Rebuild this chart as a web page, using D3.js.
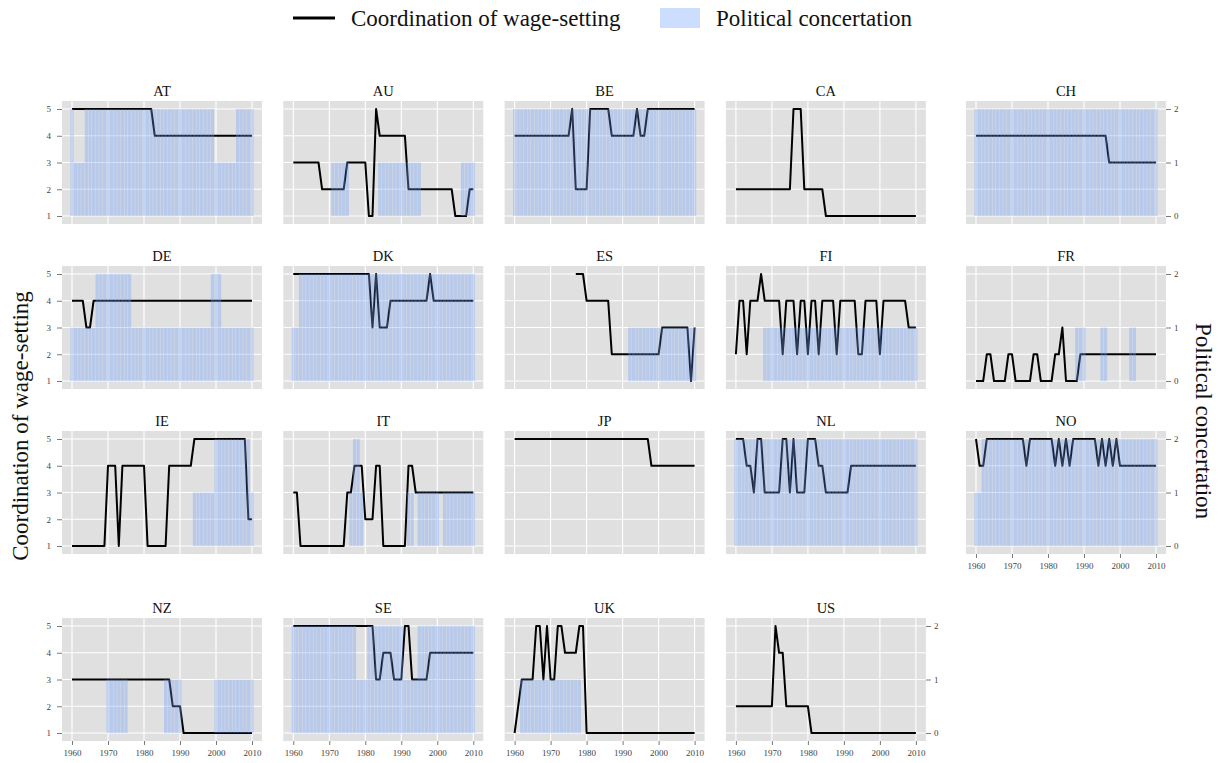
<!DOCTYPE html>
<html><head><meta charset="utf-8">
<script src="https://cdn.jsdelivr.net/npm/d3@7/dist/d3.min.js"></script>
<style>
body{margin:0;background:#fff}
svg{display:block}
text{font-family:"Liberation Serif","Times New Roman",serif}
</style>
</head><body>
<svg id="chart" width="1220" height="763"></svg>
<script>
const years = [1960,1961,1962,1963,1964,1965,1966,1967,1968,1969,
1970,1971,1972,1973,1974,1975,1976,1977,1978,1979,
1980,1981,1982,1983,1984,1985,1986,1987,1988,1989,
1990,1991,1992,1993,1994,1995,1996,1997,1998,1999,
2000,2001,2002,2003,2004,2005,2006,2007,2008,2009,2010];

const countries = ["AT","AU","BE","CA","CH","DE","DK","ES","FI","FR","IE","IT","JP","NL","NO","NZ","SE","UK","US"];
const xTicks = [1960,1970,1980,1990,2000,2010];
const coordTicks = [1,2,3,4,5];
const concTicks = [0,1,2];

// Coordination of wage-setting (1-5), 1960..2010
const coord_AT = [5,5,5,5,5,5,5,5,5,5, 5,5,5,5,5,5,5,5,5,5, 5,5,5,4,4,4,4,4,4,4, 4,4,4,4,4,4,4,4,4,4, 4,4,4,4,4,4,4,4,4,4, 4];
const coord_AU = [3,3,3,3,3,3,3,3,2,2, 2,2,2,2,2,3,3,3,3,3, 3,1,1,5,4,4,4,4,4,4, 4,4,2,2,2,2,2,2,2,2, 2,2,2,2,2,1,1,1,1,2, 2];
const coord_BE = [4,4,4,4,4,4,4,4,4,4, 4,4,4,4,4,4,5,2,2,2, 2,5,5,5,5,5,5,4,4,4, 4,4,4,4,5,4,4,5,5,5, 5,5,5,5,5,5,5,5,5,5, 5];
const coord_CA = [2,2,2,2,2,2,2,2,2,2, 2,2,2,2,2,2,5,5,5,2, 2,2,2,2,2,1,1,1,1,1, 1,1,1,1,1,1,1,1,1,1, 1,1,1,1,1,1,1,1,1,1, 1];
const coord_CH = [4,4,4,4,4,4,4,4,4,4, 4,4,4,4,4,4,4,4,4,4, 4,4,4,4,4,4,4,4,4,4, 4,4,4,4,4,4,4,3,3,3, 3,3,3,3,3,3,3,3,3,3, 3];
const coord_DE = [4,4,4,4,3,3,4,4,4,4, 4,4,4,4,4,4,4,4,4,4, 4,4,4,4,4,4,4,4,4,4, 4,4,4,4,4,4,4,4,4,4, 4,4,4,4,4,4,4,4,4,4, 4];
const coord_DK = [5,5,5,5,5,5,5,5,5,5, 5,5,5,5,5,5,5,5,5,5, 5,5,3,5,3,3,3,4,4,4, 4,4,4,4,4,4,4,4,5,4, 4,4,4,4,4,4,4,4,4,4, 4];
const coord_ES = [null,null,null,null,null,null,null,null,null,null, null,null,null,null,null,null,null,5,5,5, 4,4,4,4,4,4,4,2,2,2, 2,2,2,2,2,2,2,2,2,2, 2,3,3,3,3,3,3,3,3,1, 3];
const coord_FI = [2,4,4,2,4,4,4,5,4,4, 4,4,4,2,4,4,4,2,4,4, 2,4,4,2,4,4,4,4,2,4, 4,4,4,4,2,2,4,4,4,4, 2,4,4,4,4,4,4,4,3,3, 3];
const coord_FR = [1,1,1,2,2,1,1,1,1,2, 2,1,1,1,1,1,2,2,1,1, 1,1,2,2,3,1,1,1,1,2, 2,2,2,2,2,2,2,2,2,2, 2,2,2,2,2,2,2,2,2,2, 2];
const coord_IE = [1,1,1,1,1,1,1,1,1,1, 4,4,4,1,4,4,4,4,4,4, 4,1,1,1,1,1,1,4,4,4, 4,4,4,4,5,5,5,5,5,5, 5,5,5,5,5,5,5,5,5,2, 2];
const coord_IT = [3,3,1,1,1,1,1,1,1,1, 1,1,1,1,1,3,3,4,4,4, 2,2,2,4,4,1,1,1,1,1, 1,1,4,4,3,3,3,3,3,3, 3,3,3,3,3,3,3,3,3,3, 3];
const coord_JP = [5,5,5,5,5,5,5,5,5,5, 5,5,5,5,5,5,5,5,5,5, 5,5,5,5,5,5,5,5,5,5, 5,5,5,5,5,5,5,5,4,4, 4,4,4,4,4,4,4,4,4,4, 4];
const coord_NL = [5,5,5,4,4,3,5,5,3,3, 3,3,3,5,5,3,5,3,3,3, 5,5,5,4,4,3,3,3,3,3, 3,3,4,4,4,4,4,4,4,4, 4,4,4,4,4,4,4,4,4,4, 4];
const coord_NO = [5,4,4,5,5,5,5,5,5,5, 5,5,5,5,4,5,5,5,5,5, 5,5,4,5,4,5,4,5,5,5, 5,5,5,5,4,5,4,5,4,5, 4,4,4,4,4,4,4,4,4,4, 4];
const coord_NZ = [3,3,3,3,3,3,3,3,3,3, 3,3,3,3,3,3,3,3,3,3, 3,3,3,3,3,3,3,3,2,2, 2,1,1,1,1,1,1,1,1,1, 1,1,1,1,1,1,1,1,1,1, 1];
const coord_SE = [5,5,5,5,5,5,5,5,5,5, 5,5,5,5,5,5,5,5,5,5, 5,5,5,3,3,4,4,4,3,3, 3,5,5,3,3,3,3,3,4,4, 4,4,4,4,4,4,4,4,4,4, 4];
const coord_UK = [1,2,3,3,3,3,5,5,3,5, 3,3,5,5,4,4,4,4,5,5, 1,1,1,1,1,1,1,1,1,1, 1,1,1,1,1,1,1,1,1,1, 1,1,1,1,1,1,1,1,1,1, 1];
const coord_US = [2,2,2,2,2,2,2,2,2,2, 2,5,4,4,2,2,2,2,2,2, 2,1,1,1,1,1,1,1,1,1, 1,1,1,1,1,1,1,1,1,1, 1,1,1,1,1,1,1,1,1,1, 1];

// Political concertation (0-2), 1960..2010
const conc_AT = [2,1,1,1,2,2,2,2,2,2, 2,2,2,2,2,2,2,2,2,2, 2,2,2,2,2,2,2,2,2,2, 2,2,2,2,2,2,2,2,2,2, 1,1,1,1,1,1,2,2,2,2, 2];
const conc_AU = [0,0,0,0,0,0,0,0,0,0, 0,1,1,1,1,1,0,0,0,0, 0,0,0,0,1,1,1,1,1,1, 1,1,1,1,1,1,0,0,0,0, 0,0,0,0,0,0,0,1,1,1, 1];
const conc_BE = [2,2,2,2,2,2,2,2,2,2, 2,2,2,2,2,2,2,2,2,2, 2,2,2,2,2,2,2,2,2,2, 2,2,2,2,2,2,2,2,2,2, 2,2,2,2,2,2,2,2,2,2, 2];
const conc_CA = [0,0,0,0,0,0,0,0,0,0, 0,0,0,0,0,0,0,0,0,0, 0,0,0,0,0,0,0,0,0,0, 0,0,0,0,0,0,0,0,0,0, 0,0,0,0,0,0,0,0,0,0, 0];
const conc_CH = [2,2,2,2,2,2,2,2,2,2, 2,2,2,2,2,2,2,2,2,2, 2,2,2,2,2,2,2,2,2,2, 2,2,2,2,2,2,2,2,2,2, 2,2,2,2,2,2,2,2,2,2, 2];
const conc_DE = [1,1,1,1,1,1,1,2,2,2, 2,2,2,2,2,2,2,1,1,1, 1,1,1,1,1,1,1,1,1,1, 1,1,1,1,1,1,1,1,1,2, 2,2,1,1,1,1,1,1,1,1, 1];
const conc_DK = [1,1,2,2,2,2,2,2,2,2, 2,2,2,2,2,2,2,2,2,2, 2,2,2,2,2,2,2,2,2,2, 2,2,2,2,2,2,2,2,2,2, 2,2,2,2,2,2,2,2,2,2, 2];
const conc_ES = [0,0,0,0,0,0,0,0,0,0, 0,0,0,0,0,0,0,0,0,0, 0,0,0,0,0,0,0,0,0,0, 0,0,1,1,1,1,1,1,1,1, 1,1,1,1,1,1,1,1,1,1, 1];
const conc_FI = [0,0,0,0,0,0,0,0,1,1, 1,1,1,1,1,1,1,1,1,1, 1,1,1,1,1,1,1,1,1,1, 1,1,1,1,1,1,1,1,1,1, 1,1,1,1,1,1,1,1,1,1, 1];
const conc_FR = [0,0,0,0,0,0,0,0,0,0, 0,0,0,0,0,0,0,0,0,0, 0,0,0,0,0,0,0,0,1,1, 1,0,0,0,0,1,1,0,0,0, 0,0,0,1,1,0,0,0,0,0, 0];
const conc_IE = [0,0,0,0,0,0,0,0,0,0, 0,0,0,0,0,0,0,0,0,0, 0,0,0,0,0,0,0,0,0,0, 0,0,0,0,1,1,1,1,1,1, 2,2,2,2,2,2,2,2,2,2, 1];
const conc_IT = [0,0,0,0,0,0,0,0,0,0, 0,0,0,0,0,0,1,2,2,1, 0,0,0,0,0,0,0,0,0,0, 0,0,1,1,0,1,1,1,1,1, 1,0,1,1,1,1,1,1,1,1, 1];
const conc_JP = [0,0,0,0,0,0,0,0,0,0, 0,0,0,0,0,0,0,0,0,0, 0,0,0,0,0,0,0,0,0,0, 0,0,0,0,0,0,0,0,0,0, 0,0,0,0,0,0,0,0,0,0, 0];
const conc_NL = [2,2,2,2,2,2,2,2,2,2, 2,2,2,2,2,2,2,2,2,2, 2,2,2,2,2,2,2,2,2,2, 2,2,2,2,2,2,2,2,2,2, 2,2,2,2,2,2,2,2,2,2, 2];
const conc_NO = [1,1,2,2,2,2,2,2,2,2, 2,2,2,2,2,2,2,2,2,2, 2,2,2,2,2,2,2,2,2,2, 2,2,2,2,2,2,2,2,2,2, 2,2,2,2,2,2,2,2,2,2, 2];
const conc_NZ = [0,0,0,0,0,0,0,0,0,0, 1,1,1,1,1,1,0,0,0,0, 0,0,0,0,0,0,1,1,1,1, 1,0,0,0,0,0,0,0,0,0, 1,1,1,1,1,1,1,1,1,1, 1];
const conc_SE = [2,2,2,2,2,2,2,2,2,2, 2,2,2,2,2,2,2,2,1,1, 1,2,2,2,2,2,2,2,2,2, 2,1,1,1,1,2,2,2,2,2, 2,2,2,2,2,2,2,2,2,2, 2];
const conc_UK = [0,0,1,1,1,1,1,1,1,1, 1,1,1,1,1,1,1,1,1,0, 0,0,0,0,0,0,0,0,0,0, 0,0,0,0,0,0,0,0,0,0, 0,0,0,0,0,0,0,0,0,0, 0];
const conc_US = [0,0,0,0,0,0,0,0,0,0, 0,0,0,0,0,0,0,0,0,0, 0,0,0,0,0,0,0,0,0,0, 0,0,0,0,0,0,0,0,0,0, 0,0,0,0,0,0,0,0,0,0, 0];

const coordByCountry = {AT:coord_AT,AU:coord_AU,BE:coord_BE,CA:coord_CA,CH:coord_CH,DE:coord_DE,DK:coord_DK,ES:coord_ES,FI:coord_FI,FR:coord_FR,IE:coord_IE,IT:coord_IT,JP:coord_JP,NL:coord_NL,NO:coord_NO,NZ:coord_NZ,SE:coord_SE,UK:coord_UK,US:coord_US};
const concByCountry = {AT:conc_AT,AU:conc_AU,BE:conc_BE,CA:conc_CA,CH:conc_CH,DE:conc_DE,DK:conc_DK,ES:conc_ES,FI:conc_FI,FR:conc_FR,IE:conc_IE,IT:conc_IT,JP:conc_JP,NL:conc_NL,NO:conc_NO,NZ:conc_NZ,SE:conc_SE,UK:conc_UK,US:conc_US};

const svg = d3.select("#chart");
const colX = [62, 283.3, 504.6, 725.9, 966];
const rowY = [101, 266, 431, 618];
const PW = 200, PH = 123;
const BAR_FILL = "rgb(115,160,250)", BAR_OP = 0.36;

const x = d3.scaleLinear().domain([1960, 2010]).range([10, 190]);
const y = d3.scaleLinear().domain([1, 5]).range([115, 8]);
const y2 = d3.scaleLinear().domain([0, 2]).range([115, 8]);
const step = x(1961) - x(1960);

const line = d3.line().defined(d => d.v != null).x(d => x(d.year)).y(d => y(d.v));

function styleAxis(g) {
  g.select(".domain").remove();
  g.selectAll(".tick line").attr("stroke", "#7a7a7a").attr("stroke-width", 1);
  g.selectAll(".tick text").attr("fill", "#444").style("font-size", "9px")
    .style("font-family", '"Liberation Serif","Times New Roman",serif');
}

countries.forEach((c, i) => {
  const col = i % 5, row = Math.floor(i / 5);
  const g = svg.append("g").attr("transform", `translate(${colX[col]},${rowY[row]})`);
  g.append("rect").attr("width", PW).attr("height", PH).attr("fill", "#e0e0e0");
  g.selectAll(".gx").data(xTicks).enter().append("line")
    .attr("x1", d => x(d)).attr("x2", d => x(d)).attr("y1", 0).attr("y2", PH)
    .attr("stroke", "#fff").attr("stroke-width", 1.1);
  g.selectAll(".gy").data(coordTicks).enter().append("line")
    .attr("y1", d => y(d)).attr("y2", d => y(d)).attr("x1", 0).attr("x2", PW)
    .attr("stroke", "#fff").attr("stroke-width", 1.1);
  const pts = years.map((yr, k) => ({year: yr, v: coordByCountry[c][k]}));
  g.append("path").datum(pts).attr("d", line).attr("fill", "none")
    .attr("stroke", "#000").attr("stroke-width", 2).attr("stroke-linejoin", "round");
  const bars = years.map((yr, k) => ({year: yr, v: concByCountry[c][k]})).filter(d => d.v > 0);
  g.selectAll(".bar").data(bars).enter().append("rect")
    .attr("x", d => x(d.year) - step / 2 + 0.2)
    .attr("width", step - 0.4)
    .attr("y", d => y2(d.v))
    .attr("height", d => y2(0) - y2(d.v))
    .attr("fill", BAR_FILL).attr("fill-opacity", BAR_OP);
  svg.append("text").attr("x", colX[col] + PW / 2).attr("y", rowY[row] - 5)
    .attr("text-anchor", "middle").style("font-size", "14.5px").attr("fill", "#111").text(c);
  if (col === 0) {
    g.append("g").call(d3.axisLeft(y).tickValues(coordTicks).tickSize(5).tickPadding(6).tickFormat(d3.format("d"))).call(styleAxis);
  }
  if (col === 4 || c === "US") {
    g.append("g").attr("transform", `translate(${PW},0)`)
      .call(d3.axisRight(y2).tickValues(concTicks).tickSize(5).tickPadding(3).tickFormat(d3.format("d"))).call(styleAxis);
  }
  if (row === 3 || c === "NO") {
    g.append("g").attr("transform", `translate(0,${PH})`)
      .call(d3.axisBottom(x).tickValues(xTicks).tickSize(4).tickPadding(5).tickFormat(d3.format("d"))).call(styleAxis);
  }
});

svg.append("text").attr("transform", "translate(28,426) rotate(-90)")
  .attr("text-anchor", "middle").style("font-size", "23px").attr("fill", "#111")
  .text("Coordination of wage-setting");
svg.append("text").attr("transform", "translate(1196,421) rotate(90)")
  .attr("text-anchor", "middle").style("font-size", "23px").attr("fill", "#111")
  .text("Political concertation");

const lg = svg.append("g");
lg.append("line").attr("x1", 293).attr("x2", 335).attr("y1", 18).attr("y2", 18)
  .attr("stroke", "#000").attr("stroke-width", 3);
lg.append("text").attr("x", 351).attr("y", 26).style("font-size", "23px").attr("fill", "#111")
  .text("Coordination of wage-setting");
lg.append("rect").attr("x", 660).attr("y", 8).attr("width", 40).attr("height", 20)
  .attr("fill", BAR_FILL).attr("fill-opacity", BAR_OP);
lg.append("text").attr("x", 716).attr("y", 26).style("font-size", "23px").attr("fill", "#111")
  .text("Political concertation");
</script>
</body></html>
